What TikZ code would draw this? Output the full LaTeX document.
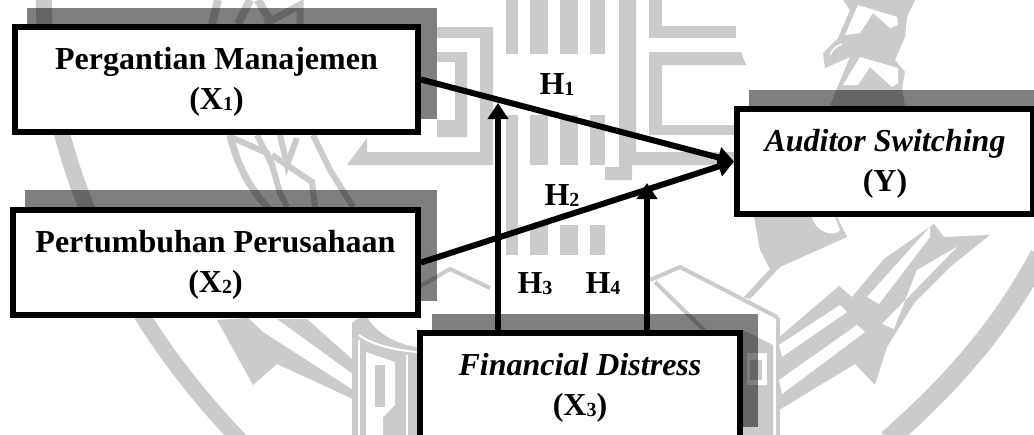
\documentclass[tikz,border=0pt]{standalone}
\usepackage{fontspec}
\setmainfont{Liberation Serif}
\usetikzlibrary{arrows.meta}
\newcommand{\subnum}[1]{\raisebox{-1pt}{\fontsize{20}{20}\selectfont #1}}
\newcommand{\firstline}{\rule{0pt}{26pt}}
\begin{document}
\begin{tikzpicture}[x=1pt,y=-1pt,
    varbox/.style={draw, line width=6pt, fill=white, align=center, inner sep=0pt, font=\fontsize{32}{40}\selectfont\bfseries},
    backdrop/.style={fill=black, opacity=0.5},
    logo/.style={fill=logogray},
    logoline/.style={draw=logogray, line width=#1},
    link/.style={line width=6pt, -{Triangle[length=16pt,width=20pt]}},
    hyp/.style={font=\fontsize{32}{36}\selectfont\bfseries, inner sep=0pt}]
    \definecolor{logogray}{RGB}{203, 203, 203}
    \useasboundingbox (0,0) rectangle (1034,434);
    \clip (0,0) rectangle (1034,434);
    \fill[white] (0,0) rectangle (1034,434);

    % Emblem behind the model: rings
    \draw[logoline=16pt] (44,-5) .. controls (42,120) and (95,290) .. (240,440);
    \draw[logoline=20pt] (1040,255) .. controls (1000,330) and (950,385) .. (888,440);
    % Emblem: wheat on the left
    \draw[logoline=8pt] (218,0) -- (212,24);
    \draw[logoline=8pt] (238,24) -- (250,0);
    \draw[logoline=8pt] (258,0) -- (272,24);
    \draw[logoline=7pt] (265,24) -- (300,5) -- (300,24);
    \draw[logoline=7pt] (230,135) .. controls (238,170) and (255,195) .. (270,210);
    \draw[logoline=6pt] (233,138) -- (267,153) -- (272,165) -- (280,193) -- (287,207);
    \draw[logoline=6pt] (257,135) -- (272,165);
    \draw[logoline=6pt] (272,155) -- (312,182) -- (315,207);
    \draw[logoline=6pt] (297,138) -- (287,165) -- (280,135);
    \draw[logoline=6pt] (313,135) -- (330,170) -- (353,207);
    \fill[logo] (217,320) -- (253,385) -- (277,364) -- (353,399) -- (353,390) -- (263,332) -- (248,318) -- cycle;
    \fill[logo] (277,319) -- (353,374) -- (353,360) -- (307,319) -- cycle;
    % Emblem: square maze in the middle
    \fill[logo] (437,27) -| (493,165) -| (347,165) -- (367,138) -- (367,152) -- (480,152) |- (437,38) -- cycle;
    \fill[logo] (437,52) -| (467,137) -| (437,120) -| (455,62) -| cycle;
    \fill[logo] (649,0) rectangle (662,38);
    \fill[logo] (649,26) rectangle (736,38);
    \fill[logo] (649,52) -- (741,52) -- (746,65) -- (662,65) -- (662,125) -- (735,125) -- (735,135) -- (649,135) -- cycle;
    \fill[logo] (619,0) -- (636,0) -- (636,152) -- (735,152) -- (735,165) -- (632,165) -- (632,180) -- (605,180) -- (605,167) -- (619,167) -- cycle;
    \foreach \xa/\xb in {506/518, 530/548, 560/578, 590/605} {
        \fill[logo] (\xa,0) rectangle (\xb,54);
        \fill[logo] (\xa,115) rectangle (\xb,165);
        \fill[logo] (\xa,225) rectangle (\xb,255);
    }
    \fill[logo] (506,165) rectangle (518,225);
    % Emblem: book at the bottom
    \draw[logoline=4pt] (353,325) -- (450,269) -- (490,288);
    \draw[logoline=4pt] (650,280) -- (680,267) -- (777,317);
    \draw[logoline=4pt] (655,282) -- (760,385);
    \fill[logo] (352,323) -- (365,313) .. controls (375,335) and (400,345) .. (417,347) -- (417,440) -- (352,440) -- cycle;
    \draw[white, line width=2pt] (359,335) .. controls (372,345) and (395,350) .. (417,352);
    \fill[white] (358,340) rectangle (360,440);
    \fill[white] (366,352) -- (395,362) -- (395,405) -- (383,417) -- (383,440) -- (366,440) -- cycle;
    \fill[logo] (375,365) rectangle (385,407);
    \fill[white] (406,355) rectangle (408,440);
    \fill[logo] (743,330) -- (773,345) -- (773,440) -- (743,440) -- cycle;
    \fill[white] (747,353) rectangle (767,385);
    \fill[logo] (750,360) rectangle (762,380);
    \fill[logo] (776,317) rectangle (780,440);
    % Emblem: leaves on the right
    \fill[logo] (777,339) -- (839,286) -- (852,297) -- (884,259) -- (934,224) -- (944,237) -- (990,235) -- (950,267) -- (915,302) -- (887,347) -- (875,385) -- (855,364) -- (779,410) -- cycle;
    \fill[white] (779,345) -- (840,305) -- (847,312) -- (782,357) -- cycle;
    \fill[white] (779,380) -- (857,325) -- (865,332) -- (782,394) -- cycle;
    \fill[white] (867,297) -- (930,227) -- (930,237) -- (879,304) -- cycle;
    \fill[white] (882,324) -- (957,247) -- (917,270) -- (894,329) -- cycle;
    % Emblem: figure at the top right
    \fill[logo] (843,0) -- (915,0) -- (907,17) -- (905,37) -- (895,60) -- (905,72) -- (902,88) -- (905,106) -- (830,106) -- (837,88) -- (850,57) -- (825,68) -- (823,53) -- (838,38) -- (850,10) -- cycle;
    \fill[white] (858,5) -- (897,17) -- (898,25) -- (890,28) -- (873,13) -- (860,33) -- (845,35) -- cycle;
    \fill[white] (860,57) -- (898,68) -- (898,83) -- (892,87) -- (870,67) -- (858,85) -- (843,85) -- cycle;
    \draw[white, line width=1.5pt] (830,55) .. controls (832,50) and (836,46) .. (842,44);
    \fill[logo] (754,217) -- (760,250) -- (770,269) -- (744,297) -- (750,299) -- (780,267) -- (847,237) -- (837,217) -- cycle;
    \fill[white] (812,217) .. controls (815,232) and (835,238) .. (840,230) -- (835,217) -- cycle;

    % Offset backdrops of the four boxes
    \fill[backdrop] (27,8) rectangle (437,119);
    \fill[backdrop] (25,190) rectangle (437,301);
    \fill[backdrop] (749,90) rectangle (1040,200);
    \fill[backdrop] (432,314) rectangle (758,427);

    % Variables
    \node[varbox, minimum width=403pt, minimum height=105pt] (PM) at (216.5,79.5) {\firstline Pergantian Manajemen\\(X\subnum{1})};
    \node[varbox, minimum width=405pt, minimum height=105pt] (PP) at (215.5,262.5) {\firstline Pertumbuhan Perusahaan\\(X\subnum{2})};
    \node[varbox, minimum width=296pt, minimum height=105pt] (AS) at (885,161.5) {\firstline\textit{Auditor Switching}\\(Y)};
    \node[varbox, minimum width=320pt, minimum height=105pt] (FD) at (580,385.5) {\firstline\textit{Financial Distress}\\(X\subnum{3})};

    % Where the moderating arrows meet the main lines
    \coordinate (M3) at (498,103);
    \coordinate (M4) at (647,183);

    \draw[link] (FD.north -| M3) -- (M3);
    \draw[link] (FD.north -| M4) -- (M4);
    \draw[link] (PM.east) -- (AS.west);
    \draw[link] (PP.east) -- (AS.west);

    % Hypothesis labels
    \node[hyp] (H1) at (557,85) {H\subnum{1}};
    \node[hyp] (H2) at (562,196) {H\subnum{2}};
    \node[hyp] (H3) at (535,284) {H\subnum{3}};
    \node[hyp] (H4) at (603,284) {H\subnum{4}};
\end{tikzpicture}
\end{document}
